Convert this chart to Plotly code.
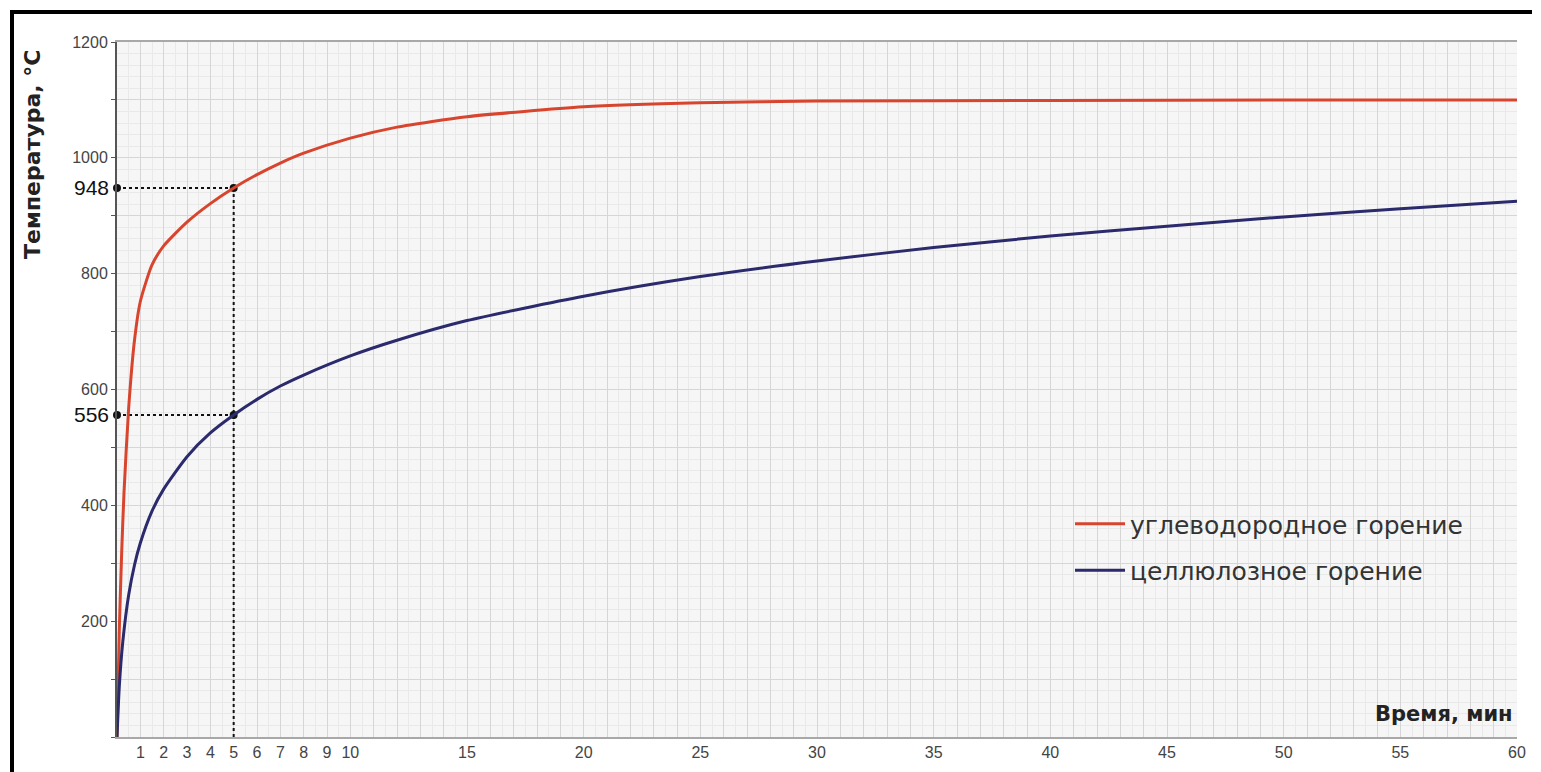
import plotly.graph_objects as go

# ---- data ----
time_hc = [0, 0.1, 0.2, 0.3, 0.5, 0.75, 1, 1.5, 2, 3, 4, 5, 6, 7, 8, 10, 12, 15, 20, 25, 30, 40, 50, 60]
temp_hc = [0, 187, 318, 422, 568, 685, 752, 815, 848, 889, 921, 948, 971, 991, 1008, 1034, 1053, 1071, 1088, 1095, 1098, 1099, 1100, 1100]

time_cel = [0, 0.1, 0.25, 0.5, 0.75, 1, 1.5, 2, 3, 4, 5, 6, 7, 8, 10, 12, 15, 20, 25, 30, 35, 40, 45, 50, 55, 60]
temp_cel = [0, 88, 165, 245, 297, 335, 390, 428, 484, 525, 556, 583, 606, 625, 658, 685, 719, 761, 795, 822, 845, 865, 882, 898, 912, 925]

series_names = ["углеводородное горение", "целлюлозное горение"]

marked_time = 5
marked_values = [948, 556]

x_tick_labels = ["1", "2", "3", "4", "5", "6", "7", "8", "9", "10",
                 "15", "20", "25", "30", "35", "40", "45", "50", "55", "60"]
y_tick_labels = ["200", "400", "600", "800", "1000", "1200"]

x_title = "Время, мин"
y_title = "Температура, °С"

# ---- figure ----
RED = "#d8452e"
BLUE = "#2a2a6c"
FONT = "Liberation Sans, Arial, sans-serif"
WIDE = "DejaVu Sans, Verdana, sans-serif"

fig = go.Figure()

# dotted guide lines
fig.add_trace(go.Scatter(
    x=[marked_time, marked_time], y=[0, marked_values[0]], mode="lines",
    line=dict(color="#111", width=2, dash="dot"), showlegend=False, hoverinfo="skip"))
for v in marked_values:
    fig.add_trace(go.Scatter(
        x=[0, marked_time], y=[v, v], mode="lines+markers",
        line=dict(color="#111", width=2, dash="dot"),
        marker=dict(color="#111", size=8), showlegend=False, hoverinfo="skip",
        cliponaxis=False))

fig.add_trace(go.Scatter(
    x=time_hc, y=temp_hc, mode="lines", name=series_names[0], legendgroup="a",
    line=dict(color=RED, width=3, shape="spline", smoothing=0.6), cliponaxis=False))
fig.add_trace(go.Scatter(
    x=time_cel, y=temp_cel, mode="lines", name=series_names[1], legendgroup="b",
    line=dict(color=BLUE, width=3, shape="spline", smoothing=0.6), cliponaxis=False))

# x ticks at every minute, labels only where the picture shows them
x_vals = list(range(0, 61))
x_text = [t if t in x_tick_labels else "" for t in (str(v) for v in x_vals)]
y_vals = list(range(0, 1201, 100))
y_text = [t if t in y_tick_labels else "" for t in (str(v) for v in y_vals)]

fig.update_xaxes(
    range=[0, 60], tickmode="array", tickvals=x_vals, ticktext=x_text,
    ticks="", showgrid=True, gridcolor="#d6d6d6", gridwidth=1,
    minor=dict(tickmode="linear", tick0=0, dtick=0.5, showgrid=True, gridcolor="#e9e9e9", gridwidth=1),
    zeroline=False, showline=True, linecolor="#a8a8a8", linewidth=2, mirror=True,
    tickfont=dict(family=FONT, size=16, color="#444"), fixedrange=True)
fig.update_yaxes(
    range=[0, 1200], tickmode="array", tickvals=y_vals, ticktext=y_text,
    ticks="outside", ticklen=4, tickcolor="#555", showgrid=True, gridcolor="#d6d6d6", gridwidth=1,
    minor=dict(tickmode="linear", tick0=0, dtick=20, showgrid=True, gridcolor="#e9e9e9", gridwidth=1),
    zeroline=False, showline=True, linecolor="#555", linewidth=2, mirror=False,
    tickfont=dict(family=FONT, size=16, color="#444"), fixedrange=True)

annotations = []
for v in marked_values:
    annotations.append(dict(
        x=0, y=v, xref="paper", yref="y", text=str(v), showarrow=False,
        xanchor="right", yanchor="middle", xshift=-6,
        font=dict(family=FONT, size=21, color="#111")))
annotations.append(dict(
    x=(32 - 117) / 1400, y=(737 - 155) / 695, xref="paper", yref="paper",
    text="<b>" + y_title + "</b>", textangle=-90, showarrow=False,
    xanchor="center", yanchor="middle", font=dict(family=WIDE, size=22, color="#222")))
annotations.append(dict(
    x=1, y=(737 - 714) / 695, xref="paper", yref="paper", text="<b>" + x_title + "</b>",
    showarrow=False, xanchor="right", yanchor="middle", xshift=-2,
    font=dict(family=WIDE, size=21, color="#222")))

shapes = [
    # outer black frame (top and left)
    dict(type="line", xref="paper", yref="paper",
         x0=(10 - 117) / 1400, x1=(1532 - 117) / 1400,
         y0=(737 - 12) / 695, y1=(737 - 12) / 695, line=dict(color="#000", width=4)),
    dict(type="line", xref="paper", yref="paper",
         x0=(12 - 117) / 1400, x1=(12 - 117) / 1400,
         y0=(737 - 10) / 695, y1=(737 - 780) / 695, line=dict(color="#000", width=4)),
]

fig.update_layout(
    width=1533, height=764,
    margin=dict(l=109, r=24, t=34, b=35),
    paper_bgcolor="white", plot_bgcolor="#f6f6f6",
    annotations=annotations, shapes=shapes,
    showlegend=True,
    legend=dict(x=(1070 - 117) / 1400, y=(737 - 501) / 695, xanchor="left", yanchor="top",
                bgcolor="rgba(0,0,0,0)", font=dict(family=WIDE, size=25, color="#333"),
                tracegroupgap=11, itemwidth=50),
    font=dict(family=FONT),
)

fig.write_html("out.html")
